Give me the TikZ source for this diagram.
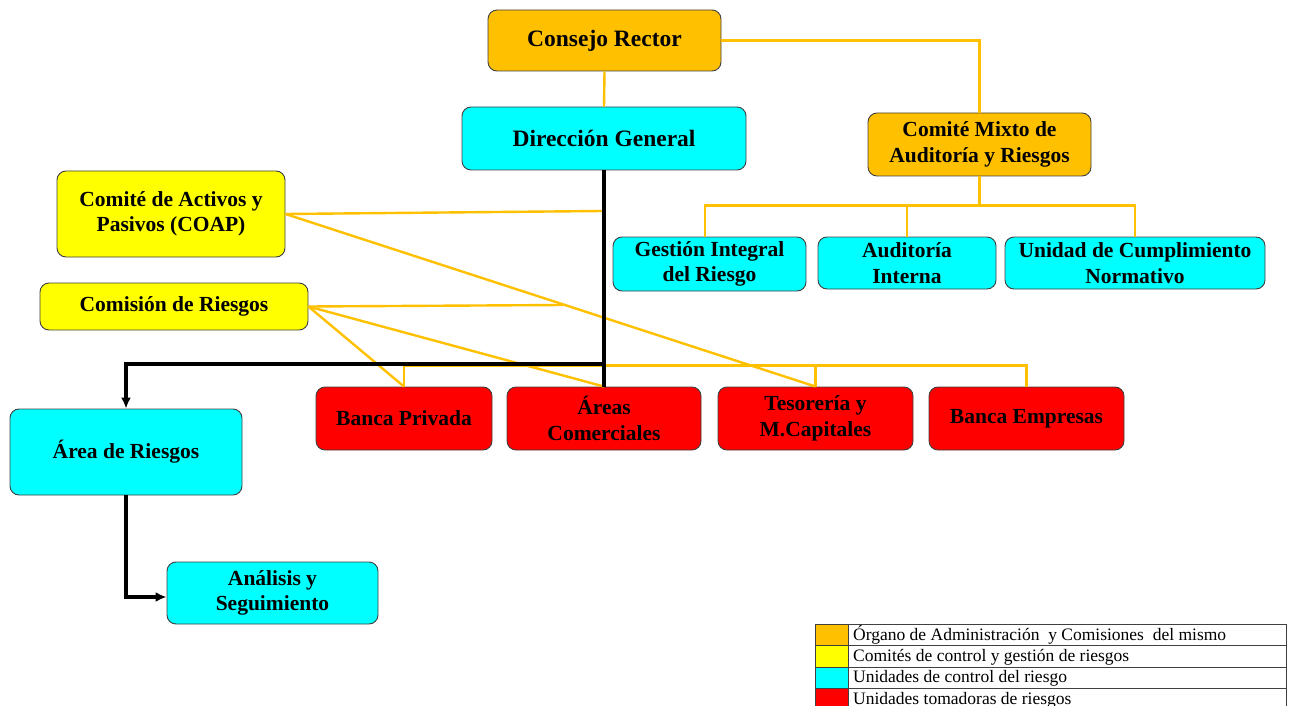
\documentclass[tikz,border=0pt]{standalone}
\usepackage{fontspec}
\setmainfont{Liberation Serif}
\usetikzlibrary{arrows.meta,decorations.pathmorphing}
\definecolor{orgc}{HTML}{FFC000}
\definecolor{yelc}{HTML}{FFFF00}
\definecolor{cyac}{HTML}{00FFFF}
\definecolor{redc}{HTML}{FF0000}
\definecolor{bordc}{HTML}{404040}
\begin{document}
\begin{tikzpicture}[x=1pt,y=-1pt,
  box/.style={draw=bordc,line width=0.9pt,rounded corners=9pt,align=center,
    font=\bfseries\fontsize{21.5}{25.5}\selectfont,inner sep=0pt},
  bigtxt/.style={font=\bfseries\fontsize{23.5}{27}\selectfont},
  ol/.style={draw=orgc,line width=2.4pt},
  bl/.style={draw=black,line width=3.4pt},
  arr/.style={-{Latex[length=11pt,width=10pt]}},
  legtxt/.style={anchor=west,inner sep=0pt,font=\fontsize{17.5}{20}\selectfont},
  legcell/.style={draw=bordc,line width=0.9pt}]
\useasboundingbox (0,0) rectangle (1291,706);
\clip (0,0) rectangle (1291,706);

% nodes
\node[box,bigtxt,fill=orgc,minimum width=233pt,minimum height=61pt] (cr) at (604.5,40.5) {Consejo Rector};
\node[box,bigtxt,fill=cyac,minimum width=284pt,minimum height=63pt] (dg) at (604,138.5) {Dirección General};
\node[box,fill=orgc,minimum width=223pt,minimum height=63pt] (cm) at (979.5,144.5) {Comité Mixto de\\Auditoría y Riesgos};
\node[box,fill=yelc,minimum width=228pt,minimum height=86pt] (ca) at (171,214) {Comité de Activos y\\Pasivos (COAP)};
\node[box,fill=yelc,minimum width=268pt,minimum height=47pt] (cs) at (174,306.5) {Comisión de Riesgos};
\node[box,fill=cyac,minimum width=193pt,minimum height=54pt] (gi) at (709.5,264) {Gestión Integral\\del Riesgo};
\node[box,fill=cyac,minimum width=178pt,minimum height=52pt] (au) at (907,263) {Auditoría\\Interna};
\node[box,fill=cyac,minimum width=260pt,minimum height=52pt] (un) at (1135,263) {Unidad de Cumplimiento\\Normativo};
\node[box,fill=redc,minimum width=176pt,minimum height=63pt] (bp) at (404,418.5) {Banca Privada};
\node[box,fill=redc,minimum width=194pt,minimum height=63pt] (ac) at (604,418.5) {Áreas\\Comerciales};
\node[box,fill=redc,minimum width=195pt,minimum height=63pt] (ts) at (815.5,418.5) {Tesorería y\\M.Capitales};
\node[box,fill=redc,minimum width=195pt,minimum height=63pt] (be) at (1026.5,418.5) {Banca Empresas};
\node[box,fill=cyac,minimum width=232pt,minimum height=86pt] (ar) at (126,452) {Área de Riesgos};
\node[box,fill=cyac,minimum width=211pt,minimum height=62pt] (as) at (272.5,593) {Análisis y\\Seguimiento};

% spell-check underline
\coordinate (wvA) at (759,445);
\coordinate (wvB) at (873,445);
\draw[red,line width=0.8pt,decorate,decoration={snake,segment length=3pt,amplitude=0.9pt}] (wvA) -- (wvB);

% orange connectors
\coordinate (cmj) at (979.5,206);
\coordinate (caend) at (602,211);
\coordinate (csend) at (563,305);
\draw[ol] (cr.south) -- (dg.north);
\draw[ol] (cr.east) -| (cm.north);
\draw[ol] (cm.south) -- (cmj);
\draw[ol] (gi.north) ++(-4.5,0) -- ++(0,-31) -| (un.north);
\draw[ol] (au.north) -- (au.north |- cmj);
\draw[ol] (ca.east) -- (caend);
\draw[ol] (ca.east) -- (ts.north);
\draw[ol] (cs.east) -- (csend);
\draw[ol] (cs.east) -- (bp.north);
\draw[ol] (cs.east) -- (ac.north);
\draw[ol] (bp.north) -- ++(0,-21) -| (be.north);
\draw[ol] (ts.north) -- ++(0,-21);

% black connectors
\coordinate (bj) at (604,364);
\draw[bl] (dg.south) -- (ac.north);
\draw[bl,arr] (bj) -| (ar.north);
\draw[bl,arr] (ar.south) |- ([yshift=-4pt]as.west);

% legend
\draw[legcell,fill=orgc] (815,624) rectangle (848,645);
\draw[legcell,fill=yelc] (815,645) rectangle (848,667);
\draw[legcell,fill=cyac] (815,667) rectangle (848,688);
\draw[legcell,fill=redc] (815,688) rectangle (848,709);
\draw[legcell] (848,624) rectangle (1286,645);
\draw[legcell] (848,645) rectangle (1286,667);
\draw[legcell] (848,667) rectangle (1286,688);
\draw[legcell] (848,688) rectangle (1286,709);
\node[legtxt] (lg1) at (853,635) {Órgano de Administración\ \ y Comisiones\ \ del mismo};
\node[legtxt] (lg2) at (853,657) {Comités de control\ y gestión\ de riesgos};
\node[legtxt] (lg3) at (853,678) {Unidades\ de control\ del riesgo};
\node[legtxt] (lg4) at (853,700) {Unidades\ tomadoras\ de riesgos};
\end{tikzpicture}
\end{document}
